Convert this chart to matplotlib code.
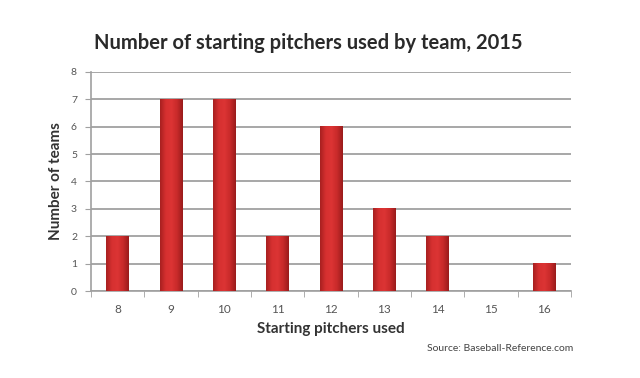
import numpy as np
import matplotlib
matplotlib.use("Agg")
import matplotlib.pyplot as plt
from matplotlib.colors import LinearSegmentedColormap

plt.rcParams['font.family'] = ['Lato', 'DejaVu Sans']

# data
pitchers = [8, 9, 10, 11, 12, 13, 14, 15, 16]
teams = [2, 7, 7, 2, 6, 3, 2, 0, 1]
yticks = [0, 1, 2, 3, 4, 5, 6, 7, 8]

fig = plt.figure(figsize=(6.4, 3.78), dpi=100)
ax = fig.add_axes([0.142, 0.230, 0.750, 0.580])

x = np.arange(len(pitchers))
width = 0.42

# horizontal red gradient: dark edges, bright middle
cmap = LinearSegmentedColormap.from_list(
    'bar', ['#a82020', '#d63030', '#dc3434', '#c82a2a', '#9a1c1c'])
grad = np.linspace(0, 1, 64).reshape(1, -1)

bars = ax.bar(x, teams, width=width, color='#c82a2a', edgecolor='none', zorder=2)
for b in bars:
    h = b.get_height()
    if h <= 0:
        continue
    x0 = b.get_x()
    ax.imshow(grad, cmap=cmap, aspect='auto', zorder=3,
              extent=[x0, x0 + b.get_width(), 0, h], interpolation='bilinear')

ax.set_xlim(-0.5, len(pitchers) - 0.5)
ax.set_ylim(0, 8)
ax.set_yticks(yticks)
ax.set_yticklabels([str(v) for v in yticks], fontsize=7.5, color='#555555')
ax.set_xticks(x)
ax.set_xticklabels([str(p) for p in pitchers], fontsize=8.5, color='#555555')
ax.set_xticks(np.arange(-0.5, len(pitchers), 1), minor=True)

ax.grid(axis='y', color='#a0a0a0', linewidth=1.3, zorder=0)
ax.set_axisbelow(True)

for s in ['top', 'right']:
    ax.spines[s].set_visible(False)
ax.spines['left'].set_color('#a0a0a0')
ax.spines['bottom'].set_color('#a0a0a0')
ax.spines['left'].set_linewidth(1.2)
ax.spines['bottom'].set_linewidth(1.2)

ax.tick_params(axis='x', which='major', length=0, pad=9)
ax.tick_params(axis='x', which='minor', length=4, color='#a0a0a0', direction='out')
ax.tick_params(axis='y', length=4, color='#a0a0a0', pad=6)

ax.set_ylabel('Number of teams', fontsize=11, fontweight='bold', color='#333333', labelpad=6)
ax.set_xlabel('Starting pitchers used', fontsize=11, fontweight='bold', color='#333333', labelpad=5)

fig.text(0.481, 0.885, 'Number of starting pitchers used by team, 2015',
         ha='center', va='center', fontsize=14.5, fontweight='bold', color='#2a2a2a')
fig.text(0.895, 0.077, 'Source: Baseball-Reference.com', ha='right', va='center',
         fontsize=7.5, color='#444444')

fig.savefig('out.png', dpi=100)
